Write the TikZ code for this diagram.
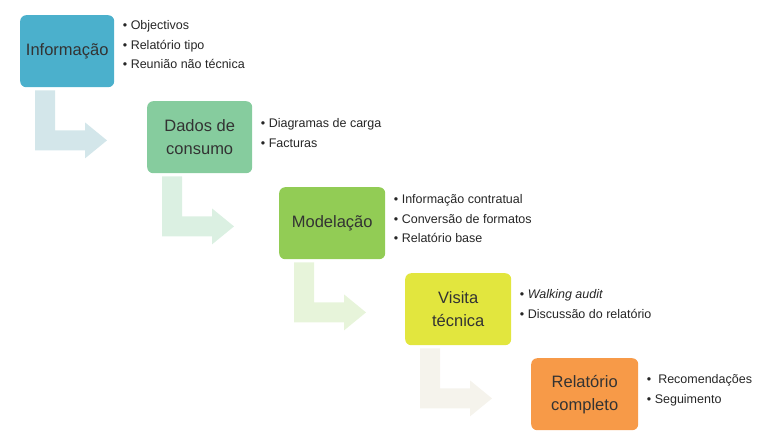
\documentclass[tikz,border=0pt]{standalone}
\usepackage{fontspec}
\setmainfont{Liberation Sans}
\usetikzlibrary{positioning,calc}
\definecolor{c-info}{HTML}{4BB0CC}
\definecolor{c-dados}{HTML}{86CC9E}
\definecolor{c-model}{HTML}{92CC55}
\definecolor{c-visita}{HTML}{E2E63E}
\definecolor{c-relat}{HTML}{F79A48}
\definecolor{a-info}{HTML}{D3E6EA}
\definecolor{a-visita}{HTML}{F5F3EC}
\newcommand{\bentarr}[2]{%
  \fill[#2] ($(#1.south west)+(15,-3)$) -- ++(20,0) -- ++(0,-40) -- ++(30,0)
    -- ++(0,8) -- ++(22,-18) -- ++(-22,-18) -- ++(0,8) -- ++(-50,0) -- cycle;}
\begin{document}
\begin{tikzpicture}
[
x=1pt, y=1pt,
step-a/.style={rounded corners=6pt, minimum width=95pt, minimum height=72pt,
  align=center, font=\fontsize{16.5}{23}\selectfont, text=black!80, inner sep=0pt},
list-a/.style={align=left, font=\fontsize{12.5}{19.5}\selectfont, text=black!85, anchor=north west}
]
\useasboundingbox (0,0) rectangle (762,-440);
\node (info)   [step-a, fill=c-info, minimum width=94pt, anchor=north west] at (20,-15) {Informação};
\node (dados)  [step-a, fill=c-dados, minimum width=105pt, anchor=north west] at (147,-101) {Dados de\\consumo};
\node (model)  [step-a, fill=c-model, minimum width=106pt, anchor=north west] at (279,-187) {Modelação};
\node (visita) [step-a, fill=c-visita, minimum width=106pt, anchor=north west] at (405,-273) {Visita\\técnica};
\node (relat)  [step-a, fill=c-relat, minimum width=107pt, anchor=north west] at (531,-358) {Relatório\\completo};
% lists
\node (info-l)   [list-a] at ($(info.north east)+(5,-2)$)
  {\textbullet\ Objectivos\\ \textbullet\ Relatório tipo\\ \textbullet\ Reunião não técnica};
\node (dados-l)  [list-a] at ($(dados.north east)+(5,-14)$)
  {\textbullet\ Diagramas de carga\\ \textbullet\ Facturas};
\node (model-l)  [list-a] at ($(model.north east)+(5,-4)$)
  {\textbullet\ Informação contratual\\ \textbullet\ Conversão de formatos\\ \textbullet\ Relatório base};
\node (visita-l) [list-a] at ($(visita.north east)+(5,-13)$)
  {\textbullet\ \textit{Walking audit}\\ \textbullet\ Discussão do relatório};
\node (relat-l)  [list-a] at ($(relat.north east)+(5,-13)$)
  {\textbullet\ \ Recomendações\\ \textbullet\ Seguimento};
% arrows
\bentarr{info}{a-info}
\bentarr{dados}{c-dados!30!white}
\bentarr{model}{c-model!22!white}
\bentarr{visita}{a-visita}
\end{tikzpicture}
\end{document}
